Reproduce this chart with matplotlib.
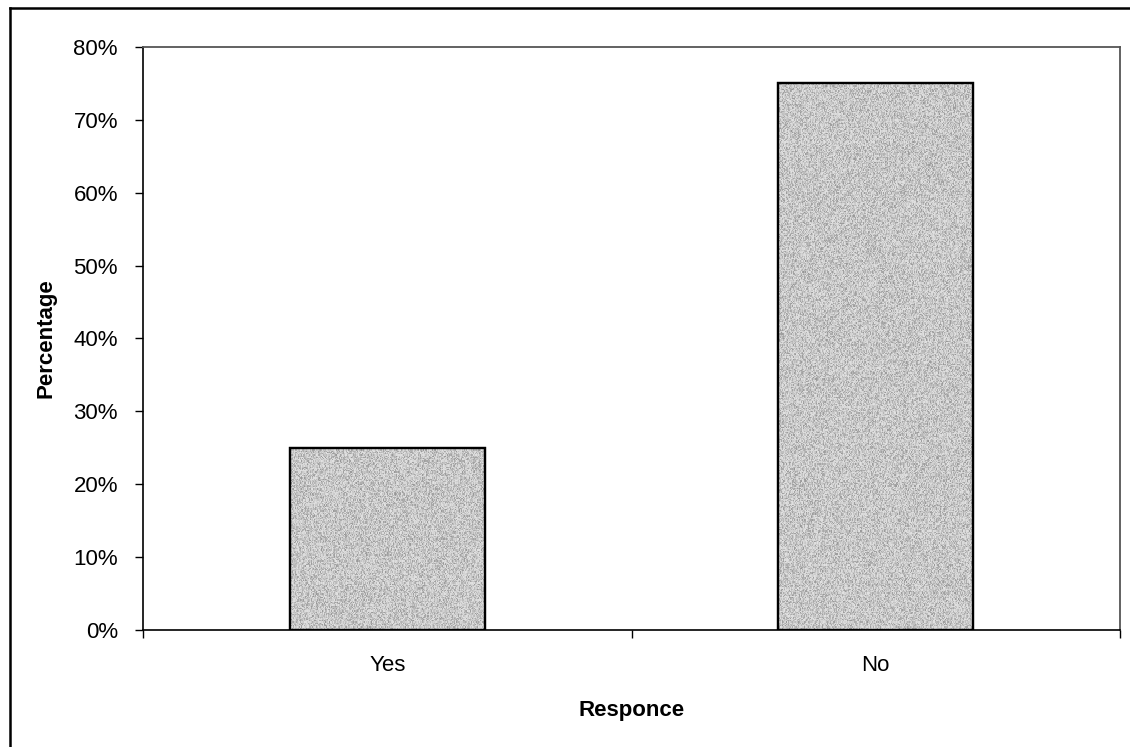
import numpy as np
import matplotlib
matplotlib.use("Agg")
import matplotlib.pyplot as plt
from matplotlib.lines import Line2D
from matplotlib.patches import Rectangle
from matplotlib.ticker import FuncFormatter

responses = ["Yes", "No"]
percentages = [25, 75]
y_ticks = [0, 10, 20, 30, 40, 50, 60, 70, 80]

plt.rcParams["font.family"] = ["Liberation Sans", "DejaVu Sans"]

fig = plt.figure(figsize=(11.3, 7.47), dpi=100)
ax = fig.add_axes([143 / 1130, 117 / 747, 977 / 1130, 583 / 747])

x = np.arange(len(responses))
bars = ax.bar(x, percentages, width=0.4, color="#d6d6d6", edgecolor="black",
              linewidth=1.6, zorder=2)

# speckled grey fill like an old printed pattern
rng = np.random.default_rng(3)
for bar in bars:
    bx, by = bar.get_x(), bar.get_y()
    bw, bh = bar.get_width(), bar.get_height()
    noise = rng.random((int(bh * 6), 200)) ** 0.6
    img = ax.imshow(noise, cmap="gray", vmin=0.0, vmax=1.0, alpha=0.3,
                    extent=(bx, bx + bw, by, by + bh), aspect="auto",
                    interpolation="nearest", zorder=2.5)
    img.set_clip_path(bar)
    edge = Rectangle((bx, by), bw, bh, fill=False, edgecolor="black",
                     linewidth=1.6, zorder=3)
    ax.add_patch(edge)

ax.set_xlim(-0.5, len(responses) - 0.5)
ax.set_ylim(0, 80)
ax.set_yticks(y_ticks)
ax.yaxis.set_major_formatter(FuncFormatter(lambda v, p: f"{v:.0f}%"))

# category labels centred, tick marks between categories
ax.set_xticks(x)
ax.set_xticklabels(responses)
ax.set_xticks(np.arange(len(responses) + 1) - 0.5, minor=True)
ax.tick_params(axis="x", which="major", length=0, pad=18, labelsize=16)
ax.tick_params(axis="x", which="minor", length=6, direction="out", width=1)
ax.tick_params(axis="y", length=6, width=1, pad=12, labelsize=16)

for side in ["top", "right"]:
    ax.spines[side].set_color("#555555")
    ax.spines[side].set_linewidth(1.3)
for side in ["left", "bottom"]:
    ax.spines[side].set_linewidth(1.2)

ax.set_ylabel("Percentage", fontsize=16, fontweight="bold", labelpad=12)
ax.set_xlabel("Responce", fontsize=16, fontweight="bold", labelpad=17)

# outer chart frame (left and top edges fall inside the image)
fx, fy = 9.5 / 1130, 1 - 8 / 747
fig.lines.append(Line2D([fx, fx], [0, fy], transform=fig.transFigure,
                        color="black", linewidth=1.8))
fig.lines.append(Line2D([fx, 1], [fy, fy], transform=fig.transFigure,
                        color="black", linewidth=1.8))

fig.savefig("out.png", dpi=100)
